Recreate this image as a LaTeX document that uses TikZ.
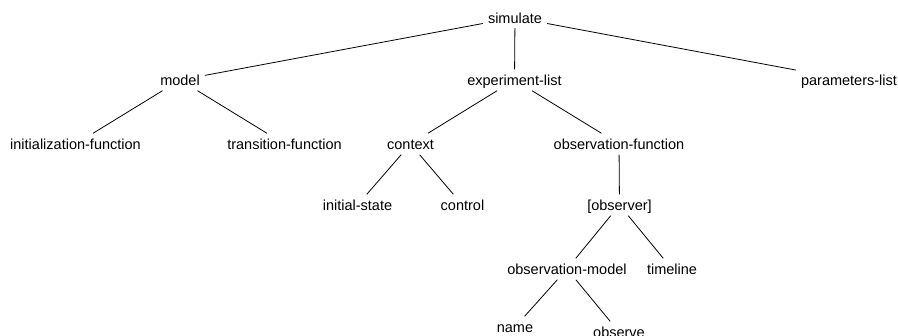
\documentclass[tikz,border=0pt]{standalone}
\usepackage{fontspec}
\setmainfont{Liberation Sans}
\usepackage{tikz}

\begin{document}
\begin{tikzpicture}[x=1pt, y=-1pt,
  term/.style={anchor=base, inner xsep=5pt, inner ysep=3pt, text height=13.5pt,
    text depth=1.5pt, font=\fontsize{14.5}{17}\selectfont}]
  \useasboundingbox (0,0) rectangle (898,336);
  \node[term] (sim) at (515,23.5) {simulate};
  \node[term] (mod) at (180,86) {model};
  \node[term] (exp) at (514.5,86) {experiment-list};
  \node[term] (par) at (849,86) {parameters-list};
  \node[term] (ini) at (75.5,150) {initialization-function};
  \node[term] (tra) at (284.5,150) {transition-function};
  \node[term] (con) at (410.5,150) {context};
  \node[term] (obf) at (619,150) {observation-function};
  \node[term] (ist) at (357.5,211) {initial-state};
  \node[term] (ctl) at (462.5,211) {control};
  \node[term] (obs) at (619.5,211) {[observer]};
  \node[term] (obm) at (567,275) {observation-model};
  \node[term] (tim) at (672,275) {timeline};
  \node[term] (nam) at (515,333) {name};
  \node[term] (obv) at (619,338) {observe};
  \path[-, line width=0.8pt]
  (sim) edge (mod)
  edge (exp)
  edge (par)
  (mod) edge (ini)
  edge (tra)
  (exp) edge (con)
  edge (obf)
  (con) edge (ist)
  edge (ctl)
  (obf) edge (obs)
  (obs) edge (obm)
  edge (tim)
  (obm) edge (nam)
  edge (obv);
\end{tikzpicture}
\end{document}
